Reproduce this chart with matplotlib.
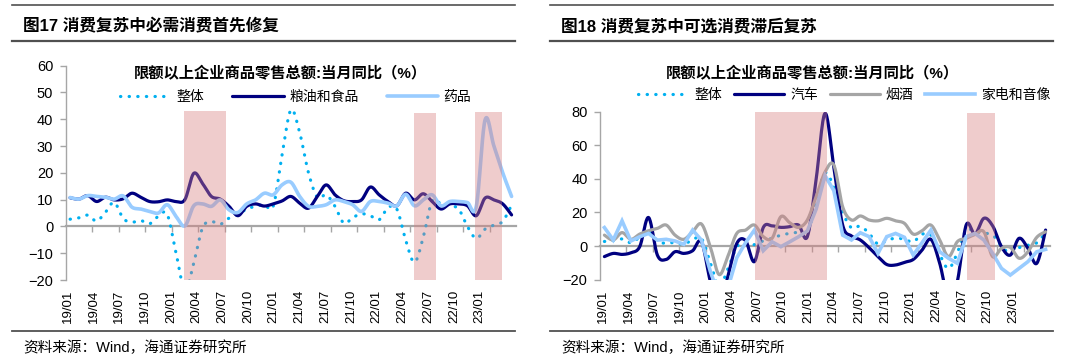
import numpy as np
import matplotlib
matplotlib.use("Agg")
import matplotlib.pyplot as plt
from matplotlib.lines import Line2D

plt.rcParams['font.family'] = ['Liberation Sans', 'Noto Sans CJK SC']

# ---------------- data ----------------
months = ['19/01', '19/04', '19/07', '19/10', '20/01', '20/04', '20/07', '20/10',
          '21/01', '21/04', '21/07', '21/10', '22/01', '22/04', '22/07', '22/10', '23/01']

total = [2.7, 3.2, 4.2, 2.0, 5.3, 9.0, 3.0, 1.6, 2.2, 1.0, 3.8, 4.5, -10, -24, -13.6,
         -0.5, 1.8, 0.8, 3.1, 4.5, 6.5, 7.5, 8.1, 7.5, 26.5, 43.5, 35, 20, 10.8, 11.8,
         7.5, 1.2, 3.3, 4.7, 4.0, 2.5, 7, 6.5, -5, -13.4, -4, 9.5, 8.4, 7.7, 6.5, 0,
         -4.5, -1, 0.5, 1.9, 8]

food = [10.7, 10.2, 11.5, 9.3, 10.9, 9.9, 10.3, 12.4, 10.9, 9.3, 9.2, 9.9, 9.3, 10,
        19.8, 16, 11.2, 10.2, 7.5, 4.0, 7.5, 8.4, 7.6, 8.4, 9.5, 11.2, 8.7, 6.8, 11.2,
        15.5, 11.8, 9.6, 9.3, 9.9, 14.7, 11.8, 9.3, 7.7, 12.4, 9.9, 12.2, 9.3, 6.5,
        8.4, 8.4, 7.7, 4.0, 10.6, 9.9, 8.4, 4.3]

medicine = [10.8, 10.2, 11.5, 11.2, 10.9, 10.2, 11.4, 7.2, 6.5, 5.6, 5.0, 8.1, 3.7, 0.2,
            7.7, 8.4, 7.5, 9.9, 6.2, 5.2, 8.4, 9.9, 12.4, 11.8, 15.5, 16.5, 11.2, 7.5,
            7.5, 8.1, 9.9, 9.3, 8.1, 5.6, 9.3, 9.3, 8.7, 7.7, 12, 7.7, 9.9, 11.8, 7.7,
            9.3, 9.3, 8.9, 7.5, 39.8, 30, 20, 11.2]

auto = [-6.3, -4.4, -5, -4, -0.4, 17, -5.4, -8, -3.4, -4.4, -2.8, 2.6, -21, -37, -18,
        1.5, 3.2, -9.3, 11, 12, 11.1, 11.5, 12.5, 5.6, 40, 79, 47, 12.5, 6, 3.6, -1,
        -6.3, -11, -11.3, -9.7, -8, -2.4, 4, -10.3, -31, -21, 12.5, 7.1, 16.5, 12,
        -0.4, -5.4, 4.6, -1.4, -10.3, 9.5]

liquor = [6.5, 3.6, 8, 4, 7.1, 9.1, 10.5, 12.5, 6.5, 4, 8.5, 13.1, -0.4, -17, -6, 7.5,
          9.5, 12.5, 5.6, 4.6, 17.5, 13.9, 11.1, 15.5, 29.4, 44, 48.2, 23.4, 15.5, 17.9,
          15.5, 15, 16.5, 15, 13.5, 7.1, 9.1, 12.5, 3.6, -6.3, 2.6, 4.6, 6.9, 8.5,
          -6.3, -1.4, -0.8, -7.3, -3.4, 5.2, 8.5]

appliance = [11, 3.6, 15, 3, 5.5, 7.5, 3.5, 4, 3, 1, 9.5, 3.5, -15, -30, -25, -7, 2,
             9.5, -2.8, 2.5, -0.4, 2.5, 5.5, 9, 22, 42, 33, 6.5, 3.6, 7.9, 5.6, -4.4,
             5.6, 7.5, 5.2, -5.4, 2, 9.5, -3.4, -7.3, -10.3, 5.6, 7.5, 3.6, -4.4,
             -13.3, -17.3, -13.3, -9.3, -3.4, -2]

# shaded periods (start, end in month index, top value)
left_band_start = [12.9, 38.9, 45.8]
left_band_end = [17.7, 41.4, 48.9]
left_band_top = [43, 42.3, 42.6]
right_band_start = [17.1, 41.1]
right_band_end = [25.2, 44.3]
right_band_top = [80, 79]

# ---------------- helpers ----------------
C_TOTAL = '#00B0F0'
C_NAVY = '#000080'
C_LIGHT = '#99CCFF'
C_GRAY = '#A5A5A5'
C_AXIS = '#A6A6A6'
C_BAND = '#D98080'
RULE = '#505050'


def excel_smooth(y, n=20):
    y = np.asarray(y, float)
    x = np.arange(len(y), dtype=float)
    xs, ys = [], []
    m = len(y)
    for i in range(m - 1):
        i0 = max(i - 1, 0)
        i3 = min(i + 2, m - 1)
        c1x = x[i] + (x[i + 1] - x[i0]) / 6
        c1y = y[i] + (y[i + 1] - y[i0]) / 6
        c2x = x[i + 1] - (x[i3] - x[i]) / 6
        c2y = y[i + 1] - (y[i3] - y[i]) / 6
        t = np.linspace(0, 1, n, endpoint=(i == m - 2))
        a, b, c, d = (1 - t) ** 3, 3 * (1 - t) ** 2 * t, 3 * (1 - t) * t ** 2, t ** 3
        xs.append(a * x[i] + b * c1x + c * c2x + d * x[i + 1])
        ys.append(a * y[i] + b * c1y + c * c2y + d * y[i + 1])
    return np.concatenate(xs), np.concatenate(ys)


W, H = 1080, 364
fig = plt.figure(figsize=(W / 100, H / 100), dpi=100)


def fx(px):
    return px / W


def fy(py):
    return 1 - py / H


def setup_axes(rect, ylim, yticks, label_pos):
    ax = fig.add_axes(rect)
    ax.set_xlim(-0.5, 50.5)
    ax.set_ylim(*ylim)
    for s in ['top', 'right', 'bottom']:
        ax.spines[s].set_visible(False)
    ax.spines['left'].set_color(C_AXIS)
    ax.spines['left'].set_linewidth(1.0)
    ax.set_yticks(yticks)
    ax.tick_params(axis='y', direction='out', length=4, width=1, color=C_AXIS,
                   labelsize=10.5, pad=5, labelcolor='black')
    ax.set_xticks(label_pos, labels=months, rotation=90)
    ax.tick_params(axis='x', length=0, pad=7, labelsize=9.5, labelcolor='black')
    # zero line with category tick marks
    loc = (0 - ylim[0]) / (ylim[1] - ylim[0])
    sec = ax.secondary_xaxis(loc)
    sec.set_xticks(np.arange(2.5, 48, 3), labels=[])
    sec.tick_params(axis='x', direction='out', length=4, width=1, color=C_AXIS)
    sec.spines['bottom'].set_color(C_AXIS)
    sec.spines['bottom'].set_linewidth(1.6)
    return ax


def draw_bands(ax, starts, ends, tops, ymin):
    for s, e, t in zip(starts, ends, tops):
        ax.bar(s, t - ymin, bottom=ymin, width=e - s, align='edge',
               color=C_BAND, alpha=0.4, linewidth=0, zorder=5)


def panel_frame(x0, x1, title, source):
    fig.add_artist(Line2D([fx(x0), fx(x1)], [fy(5.3)] * 2, color=RULE, lw=1.2))
    fig.add_artist(Line2D([fx(x0), fx(x1)], [fy(40.7)] * 2, color=RULE, lw=1.6))
    fig.add_artist(Line2D([fx(x0), fx(x1)], [fy(331)] * 2, color=RULE, lw=1.3))
    fig.text(fx(x0 + 11), fy(26), title, fontsize=12, fontweight='bold',
             va='center', ha='left', color='black')
    fig.text(fx(x0 + 11), fy(348), source, fontsize=10.5, va='center', ha='left',
             color='black')


dot_style = dict(color=C_TOTAL, lw=2.3, linestyle=(0, (0.1, 2.6)),
                 dash_capstyle='round')

# ---------------- left panel ----------------
panel_frame(12, 515, '图17 消费复苏中必需消费首先修复', '资料来源：Wind，海通证券研究所')
axL = setup_axes([fx(65.7), fy(280), fx(516) - fx(65.7), fy(65.7) - fy(280)],
                 (-20, 60), np.arange(-20, 61, 10), np.linspace(-0.24, 46.37, 17))
x, y = excel_smooth(total)
hT, = axL.plot(x, y, label='整体', zorder=2, **dot_style)
x, y = excel_smooth(food)
hF, = axL.plot(x, y, color=C_NAVY, lw=2.3, label='粮油和食品', zorder=3,
               solid_capstyle='round')
x, y = excel_smooth(medicine)
hM, = axL.plot(x, y, color=C_LIGHT, lw=2.6, label='药品', zorder=4,
               solid_capstyle='round')
draw_bands(axL, left_band_start, left_band_end, left_band_top, -20)
fig.text(fx(280), fy(73), '限额以上企业商品零售总额:当月同比（%）', fontsize=11,
         fontweight='bold', ha='center', va='center')
fig.legend([hT, hF, hM], ['整体', '粮油和食品', '药品'], loc='center left',
           bbox_to_anchor=(fx(120), fy(97)), ncol=3, frameon=False, fontsize=10,
           handlelength=3.7, handletextpad=0.4, columnspacing=2.0, borderpad=0,
           borderaxespad=0)

# ---------------- right panel ----------------
panel_frame(550, 1053, '图18 消费复苏中可选消费滞后复苏', '资料来源：Wind，海通证券研究所')
axR = setup_axes([fx(600), fy(279.6), fx(1050) - fx(600), fy(111.7) - fy(279.6)],
                 (-20, 80), np.arange(-20, 81, 20), np.linspace(-0.16, 46.33, 17))
x, y = excel_smooth(total)
rT, = axR.plot(x, y, label='整体', zorder=2, **dot_style)
x, y = excel_smooth(auto)
rA, = axR.plot(x, y, color=C_NAVY, lw=2.3, label='汽车', zorder=3,
               solid_capstyle='round')
x, y = excel_smooth(liquor)
rL, = axR.plot(x, y, color=C_GRAY, lw=2.3, label='烟酒', zorder=4,
               solid_capstyle='round')
rP, = axR.plot(np.arange(len(appliance)), appliance, color=C_LIGHT, lw=2.6,
               label='家电和音像', zorder=4.5, solid_joinstyle='miter')
draw_bands(axR, right_band_start, right_band_end, right_band_top, -20)
fig.text(fx(812), fy(73), '限额以上企业商品零售总额:当月同比（%）', fontsize=11,
         fontweight='bold', ha='center', va='center')
fig.legend([rT, rA, rL, rP], ['整体', '汽车', '烟酒', '家电和音像'], loc='center left',
           bbox_to_anchor=(fx(638), fy(95)), ncol=4, frameon=False, fontsize=10,
           handlelength=3.6, handletextpad=0.45, columnspacing=0.85, borderpad=0,
           borderaxespad=0)

fig.savefig('out.png', dpi=100)
